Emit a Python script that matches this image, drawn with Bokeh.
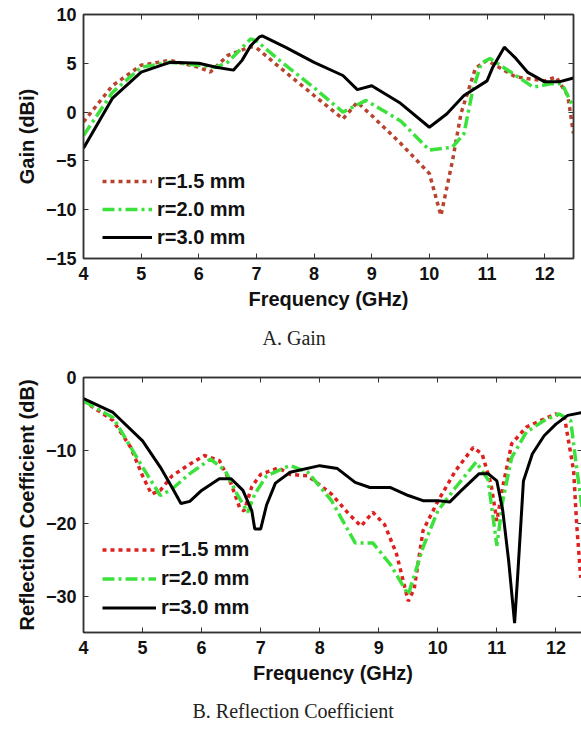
from bokeh.plotting import figure
from bokeh.models import LinearAxis, FixedTicker, Range1d, Legend, LegendItem, CustomLabelingPolicy
from bokeh.layouts import column
from bokeh.embed import file_html
from bokeh.resources import INLINE

# ---------------- data: A. Gain ----------------
gain_x_ticks = [4, 5, 6, 7, 8, 9, 10, 11, 12]
gain_y_ticks = [-15, -10, -5, 0, 5, 10]

gain_r15_f = [4.0, 4.5, 5.0, 5.5, 6.0, 6.2, 6.5, 6.9, 7.0, 7.4, 8.0, 8.5, 8.75, 9.0, 9.5,
              10.0, 10.2, 10.4, 10.55, 10.8, 11.0, 11.5, 12.0, 12.2, 12.4, 12.5]
gain_r15_v = [-1.0, 2.7, 4.8, 5.3, 4.6, 4.1, 5.8, 6.7, 6.6, 4.6, 1.7, -0.7, 1.0, -0.35, -3.2,
              -6.3, -10.6, -5.0, -0.1, 4.5, 5.3, 3.6, 3.2, 3.6, 1.7, -2.2]

gain_r20_f = [4.0, 4.5, 5.0, 5.5, 6.0, 6.3, 6.5, 6.9, 7.0, 7.4, 8.0, 8.5, 8.9, 9.5, 10.0,
              10.4, 10.6, 10.75, 10.9, 11.05, 11.5, 11.8, 12.1, 12.3, 12.5]
gain_r20_v = [-2.4, 2.0, 4.6, 5.1, 4.8, 4.6, 5.1, 7.5, 7.3, 5.3, 2.5, 0.0, 1.2, -0.9, -3.9,
              -3.6, -2.2, 2.2, 5.0, 5.5, 3.75, 2.55, 2.9, 2.9, 0.5]

gain_r30_f = [4.0, 4.5, 5.0, 5.5, 6.0, 6.3, 6.6, 6.75, 6.9, 7.05, 7.1, 7.5, 8.0, 8.5, 8.75,
              9.0, 9.5, 10.0, 10.3, 10.6, 11.0, 11.1, 11.3, 11.5, 11.7, 12.0, 12.25, 12.5]
gain_r30_v = [-3.7, 1.4, 4.1, 5.1, 5.0, 4.6, 4.3, 5.3, 6.8, 7.7, 7.8, 6.65, 5.1, 3.75, 2.3,
              2.7, 0.9, -1.55, -0.2, 1.7, 3.2, 4.6, 6.65, 5.5, 4.1, 3.1, 3.1, 3.5]

# ---------------- data: B. Reflection Coefficient ----------------
refl_x_ticks = [4, 5, 6, 7, 8, 9, 10, 11, 12]
refl_y_ticks = [-30, -20, -10, 0]

refl_r15_f = [4.0, 4.5, 4.8, 5.0, 5.15, 5.3, 5.5, 5.8, 6.05, 6.3, 6.5, 6.65, 6.72, 6.85, 7.0,
              7.3, 7.5, 7.8, 8.2, 8.5, 8.7, 8.9, 9.1, 9.3, 9.5, 9.6, 9.75, 10.0, 10.3, 10.6,
              10.75, 10.9, 11.0, 11.1, 11.25, 11.5, 11.8, 12.0, 12.15, 12.3, 12.35, 12.42]
refl_r15_v = [-3.2, -5.9, -9.6, -13.5, -16.0, -15.5, -13.5, -11.9, -10.7, -11.4, -14.6, -18.0,
              -18.3, -15.0, -13.3, -12.4, -13.3, -13.5, -16.0, -18.8, -20.4, -18.5, -20.2,
              -24.2, -30.7, -29.0, -21.0, -17.0, -12.8, -9.6, -10.5, -14.6, -19.7, -15.0,
              -9.1, -6.8, -5.7, -5.0, -5.7, -12.8, -20.0, -27.5]

refl_r20_f = [4.0, 4.5, 5.0, 5.3, 5.5, 5.8, 6.15, 6.4, 6.6, 6.78, 6.9, 7.1, 7.4, 7.5, 7.8,
              8.2, 8.6, 8.9, 9.2, 9.5, 9.75, 10.0, 10.3, 10.65, 10.85, 11.0, 11.1, 11.25,
              11.5, 11.8, 12.05, 12.25, 12.35, 12.45]
refl_r20_v = [-3.2, -5.5, -12.3, -16.2, -15.3, -13.2, -11.2, -12.8, -16.0, -18.5, -16.0,
              -13.5, -12.4, -12.1, -13.0, -16.9, -22.7, -22.7, -25.7, -29.8, -23.3, -18.3,
              -15.1, -11.6, -14.0, -23.1, -16.9, -11.0, -7.5, -5.9, -5.0, -5.9, -12.4, -18.3]

refl_r30_f = [4.0, 4.5, 5.0, 5.3, 5.5, 5.65, 5.8, 6.0, 6.3, 6.5, 6.7, 6.85, 6.9, 7.0, 7.1,
              7.25, 7.5, 8.0, 8.3, 8.6, 8.85, 9.2, 9.5, 9.75, 10.0, 10.2, 10.4, 10.7, 10.85,
              11.0, 11.1, 11.2, 11.3, 11.35, 11.45, 11.6, 11.8, 12.0, 12.2, 12.45]
refl_r30_v = [-2.9, -4.8, -8.7, -12.3, -15.1, -17.3, -17.0, -15.5, -13.9, -13.9, -15.5,
              -18.3, -20.8, -20.8, -17.5, -14.5, -13.0, -12.1, -12.5, -14.4, -15.1, -15.1,
              -16.2, -16.9, -16.9, -17.1, -15.5, -13.2, -13.2, -14.2, -18.3, -25.2, -33.7,
              -27.5, -14.2, -10.5, -8.0, -6.4, -5.2, -4.8]

labels = ["r=1.5 mm", "r=2.0 mm", "r=3.0 mm"]

SANS = "Liberation Sans"
SERIF = "Liberation Serif"
AX = "#333333"


def mirror_axis(ticks):
    return LinearAxis(ticker=FixedTicker(ticks=ticks), major_label_text_font_size="1px",
                      major_label_policy=CustomLabelingPolicy(code="return new Set()"),
                      major_tick_in=5, major_tick_out=0, minor_tick_line_color=None,
                      major_label_standoff=0, axis_line_color=AX, axis_line_width=1.5,
                      major_tick_line_color=AX)


def make_fig(title, ylabel, x_end, y_start, y_end, xt, yt, fw, fh, bl, bt, bb, title_off, title_gap):
    p = figure(frame_width=fw, frame_height=fh, output_backend="svg", toolbar_location=None,
               x_range=Range1d(4, x_end), y_range=Range1d(y_start, y_end),
               title=title, title_location="below",
               min_border_left=bl, min_border_top=bt, min_border_bottom=bb, min_border_right=0)
    p.title.text_font = SERIF
    p.title.text_font_style = "normal"
    p.title.text_font_size = "20px"
    p.title.text_color = "#222222"
    p.title.align = "left"
    p.title.offset = title_off
    p.title.standoff = title_gap
    p.xgrid.visible = False
    p.ygrid.visible = False
    p.outline_line_color = AX
    p.outline_line_width = 1.5
    p.background_fill_color = "white"
    p.border_fill_color = "white"
    p.xaxis.axis_label = "Frequency (GHz)"
    p.yaxis.axis_label = ylabel
    p.xaxis.ticker = FixedTicker(ticks=xt)
    p.yaxis.ticker = FixedTicker(ticks=yt)
    for ax in p.xaxis + p.yaxis:
        ax.major_label_text_font = SANS
        ax.major_label_text_font_style = "bold"
        ax.major_label_text_font_size = "18px"
        ax.major_label_text_color = "#111111"
        ax.axis_label_text_font = SANS
        ax.axis_label_text_font_style = "bold"
        ax.axis_label_text_font_size = "20px"
        ax.axis_label_text_color = "#111111"
        ax.major_tick_in = 5
        ax.major_tick_out = 0
        ax.minor_tick_line_color = None
        ax.axis_line_color = AX
        ax.axis_line_width = 1.5
        ax.major_tick_line_color = AX
    p.xaxis.major_label_standoff = 8
    p.xaxis.axis_label_standoff = 5
    p.yaxis.major_label_standoff = 7
    p.yaxis.axis_label_standoff = 5
    p.add_layout(mirror_axis(xt), "above")
    p.add_layout(mirror_axis(yt), "right")
    return p


def add_lines(p, data, red, loc, gw, row_h):
    r1 = p.line(data[0][0], data[0][1], line_color=red, line_width=3.5, line_dash="4 4")
    r2 = p.line(data[1][0], data[1][1], line_color="#3ce23c", line_width=3.5, line_dash="12 4 3 4")
    r3 = p.line(data[2][0], data[2][1], line_color="black", line_width=3)
    leg = Legend(items=[LegendItem(label=labels[0], renderers=[r1]),
                        LegendItem(label=labels[1], renderers=[r2]),
                        LegendItem(label=labels[2], renderers=[r3])],
                 location=loc, padding=0, margin=0, spacing=0,
                 glyph_width=gw, glyph_height=row_h, label_height=row_h, label_standoff=5,
                 border_line_color=None, background_fill_alpha=0,
                 label_text_font=SANS, label_text_font_style="bold",
                 label_text_font_size="20px", label_text_color="#111111")
    p.add_layout(leg, "center")


p1 = make_fig("A. Gain", "Gain (dBi)", 12.5, -15, 10, gain_x_ticks, gain_y_ticks,
              490, 244, 83, 14, 105, 179, 25)
add_lines(p1, [(gain_r15_f, gain_r15_v), (gain_r20_f, gain_r20_v), (gain_r30_f, gain_r30_v)],
          "#b8432e", (19, 7), 50, 28)

p2 = make_fig("B. Reflection Coefficient", "Reflection Coefficient (dB)", 12.45, -35, 0,
              refl_x_ticks, refl_y_ticks, 499, 255, 79, 14, 95, 109, 22)
add_lines(p2, [(refl_r15_f, refl_r15_v), (refl_r20_f, refl_r20_v), (refl_r30_f, refl_r30_v)],
          "#e0201e", (19, 10), 54, 29)

layout = column(p1, p2, spacing=0)
open("out.html", "w").write(file_html(layout, INLINE))
